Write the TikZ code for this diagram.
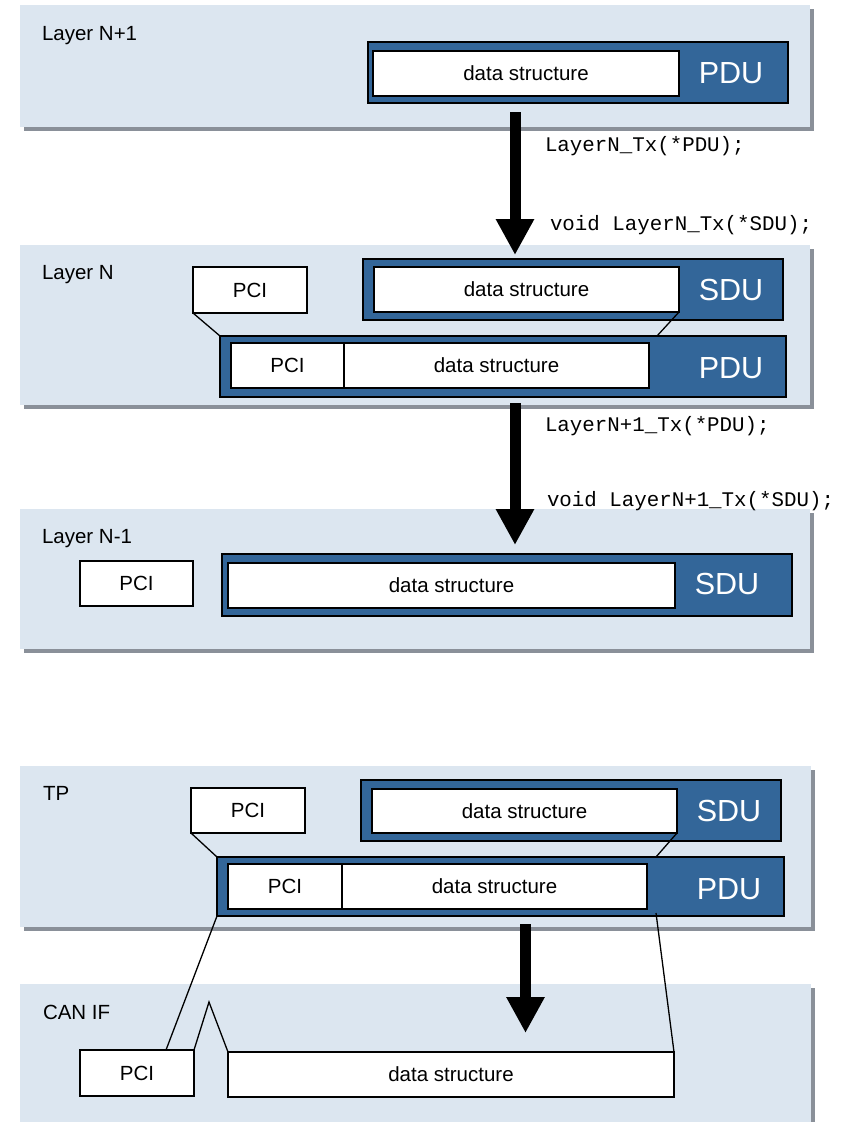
\documentclass[tikz,border=0pt]{standalone}
\usepackage{fontspec}
\setmainfont{Liberation Sans}
\setmonofont{Liberation Mono}
\usetikzlibrary{fit,arrows.meta,shadows}
\definecolor{layerfill}{HTML}{DCE6F0}
\definecolor{shadowgray}{HTML}{8A9099}
\definecolor{dblue}{HTML}{336699}
\begin{document}
\begin{tikzpicture}[x=1pt,y=-1pt,
  every node/.style={inner sep=0pt, outer sep=0pt},
  layerbox/.style={fill=layerfill, draw=none,
    drop shadow={shadow xshift=3.5pt, shadow yshift=-3.5pt, fill=shadowgray, opacity=1}},
  bluebox/.style={fill=dblue, draw=black, line width=1.6pt},
  whitebox/.style={fill=white, draw=black, line width=1.4pt},
  lbl/.style={font=\fontsize{20.5}{24}\selectfont, text height=14.7pt, text depth=0pt},
  big/.style={font=\fontsize{30.5}{34}\selectfont, text=white, text height=21.8pt, text depth=0pt},
  code/.style={font=\ttfamily\fontsize{20.8}{24}\selectfont, text height=12.5pt, text depth=0pt},
  link/.style={draw=black, line width=1.3pt},
  flow/.style={draw=black, line width=11pt, -{Triangle[length=36pt,width=36pt]}}
]
\useasboundingbox (0,0) rectangle (844,1122);

% ---------- Layer N+1
\node[layerbox, fit={(20,5) (810,127)}] (l1) {};
\node[lbl, anchor=west] (l1t) at (42,33) {Layer N+1};
\node[bluebox, fit={(368,42) (788,103)}] (l1pdu) {};
\node[whitebox, fit={(373,51) (679,96)}] (l1d) {};
\node[lbl] (l1dt) at (l1d.center) {data structure};
\node[big] (l1pt) at (731,73) {PDU};

% ---------- Layer N
\node[layerbox, fit={(20,245) (810,405)}] (l2) {};
\node[lbl, anchor=west] (l2t) at (42,272) {Layer N};
\node[whitebox, fit={(193,267) (307,313)}] (l2pci) {};
\node[lbl] (l2pcit) at (l2pci.center) {PCI};
\node[bluebox, fit={(363,259) (783,320)}] (l2sdu) {};
\node[whitebox, fit={(374,267) (679,312)}] (l2sd) {};
\node[lbl] (l2sdt) at (l2sd.center) {data structure};
\node[big] (l2st) at (731,290) {SDU};
\node[bluebox, fit={(220,336) (786,397)}] (l2pdu) {};
\node[whitebox, fit={(231,343) (344,388)}] (l2pp) {};
\node[lbl] (l2ppt) at (l2pp.center) {PCI};
\node[whitebox, fit={(344,343) (649,388)}] (l2pd) {};
\node[lbl] (l2pdt) at (l2pd.center) {data structure};
\node[big] (l2pt) at (731,368) {PDU};
\coordinate (l2j) at (657,336);
\draw[link] (l2pci.south west) -- (l2pdu.north west);
\draw[link] (l2sd.south east) -- (l2j);

% ---------- Layer N-1
\node[layerbox, fit={(20,509) (810,649)}] (l3) {};
\node[lbl, anchor=west] (l3t) at (42,536) {Layer N-1};
\node[whitebox, fit={(80,561) (193,606)}] (l3pci) {};
\node[lbl] (l3pcit) at (l3pci.center) {PCI};
\node[bluebox, fit={(222,554) (792,616)}] (l3sdu) {};
\node[whitebox, fit={(228,563) (675,608)}] (l3sd) {};
\node[lbl] (l3sdt) at (l3sd.center) {data structure};
\node[big] (l3st) at (727,584) {SDU};

% ---------- TP
\node[layerbox, fit={(20,766) (811,927)}] (l4) {};
\node[lbl, anchor=west] (l4t) at (43,793) {TP};
\node[whitebox, fit={(191,788) (305,833)}] (l4pci) {};
\node[lbl] (l4pcit) at (l4pci.center) {PCI};
\node[bluebox, fit={(361,780) (781,841)}] (l4sdu) {};
\node[whitebox, fit={(372,789) (677,833)}] (l4sd) {};
\node[lbl] (l4sdt) at (l4sd.center) {data structure};
\node[big] (l4st) at (729,811) {SDU};
\node[bluebox, fit={(217,857) (784,916)}] (l4pdu) {};
\node[whitebox, fit={(228,864) (342,909)}] (l4pp) {};
\node[lbl] (l4ppt) at (l4pp.center) {PCI};
\node[whitebox, fit={(342,864) (647,909)}] (l4pd) {};
\node[lbl] (l4pdt) at (l4pd.center) {data structure};
\node[big] (l4pt) at (729,889) {PDU};
\coordinate (l4j) at (656,857);
\draw[link] (l4pci.south west) -- (l4pdu.north west);
\draw[link] (l4sd.south east) -- (l4j);

% ---------- CAN IF
\node[layerbox, fit={(20,984) (811,1126)}] (l5) {};
\node[lbl, anchor=west] (l5t) at (43,1012) {CAN IF};
\node[whitebox, fit={(80,1050) (194,1096)}] (l5pci) {};
\node[lbl] (l5pcit) at (l5pci.center) {PCI};
\node[whitebox, fit={(228,1052) (674,1097)}] (l5d) {};
\node[lbl] (l5dt) at (l5d.center) {data structure};
\coordinate (l5peak) at (209,1002);
\coordinate (l5pin) at (166,1050);
\coordinate (l4out) at (656,913);
\draw[link] (l5pci.north east) -- (l5peak) -- (l5d.north west);
\draw[link] (l4pdu.south west) -- (l5pin);
\draw[link] (l4out) -- (l5d.north east);

% ---------- arrows and calls
\coordinate (a1s) at (515,112);
\coordinate (a1e) at (515,255);
\draw[flow] (a1s) -- (a1e);
\node[code, anchor=west] (c1) at (545,145) {LayerN\_Tx(*PDU);};
\node[code, anchor=west] (c2) at (550,224) {void LayerN\_Tx(*SDU);};

\coordinate (a2s) at (515,403);
\coordinate (a2e) at (515,545);
\draw[flow] (a2s) -- (a2e);
\node[code, anchor=west] (c3) at (545,425) {LayerN+1\_Tx(*PDU);};
\node[code, anchor=west] (c4) at (547,500) {void LayerN+1\_Tx(*SDU);};

\coordinate (a3s) at (525.5,924);
\coordinate (a3e) at (525.5,1033);
\draw[flow] (a3s) -- (a3e);
\end{tikzpicture}
\end{document}
